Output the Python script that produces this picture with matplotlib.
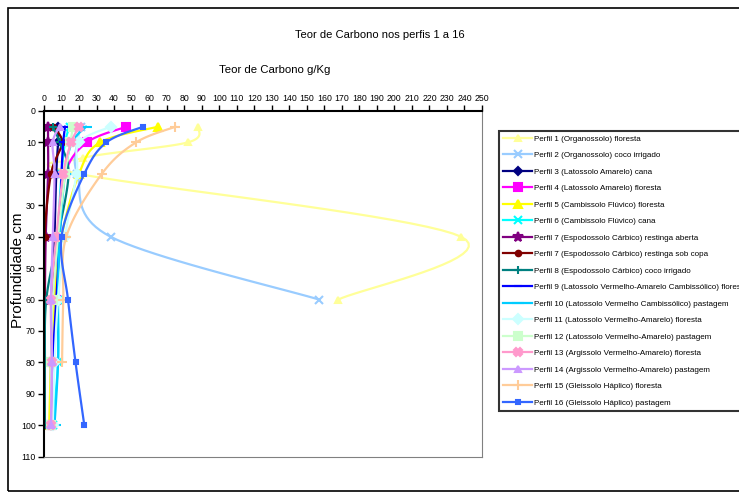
"""Teor de Carbono nos perfis 1 a 16 - perfis de carbono por profundidade."""

import matplotlib

matplotlib.use("Agg")
import matplotlib.pyplot as plt
import numpy as np
from matplotlib.patches import Rectangle

# ---- data (g/kg by depth, cm) ----
labels = [
    "Perfil 1 (Organossolo) floresta",
    "Perfil 2 (Organossolo) coco irrigado",
    "Perfil 3 (Latossolo Amarelo) cana",
    "Perfil 4 (Latossolo Amarelo) floresta",
    "Perfil 5 (Cambissolo Flúvico) floresta",
    "Perfil 6 (Cambissolo Flúvico) cana",
    "Perfil 7 (Espodossolo Cárbico) restinga aberta",
    "Perfil 7 (Espodossolo Cárbico) restinga sob copa",
    "Perfil 8 (Espodossolo Cárbico) coco irrigado",
    "Perfil 9 (Latossolo Vermelho-Amarelo Cambissólico) floresta",
    "Perfil 10 (Latossolo Vermelho Cambissólico) pastagem",
    "Perfil 11 (Latossolo Vermelho-Amarelo) floresta",
    "Perfil 12 (Latossolo Vermelho-Amarelo) pastagem",
    "Perfil 13 (Argissolo Vermelho-Amarelo) floresta",
    "Perfil 14 (Argissolo Vermelho-Amarelo) pastagem",
    "Perfil 15 (Gleissolo Háplico) floresta",
    "Perfil 16 (Gleissolo Háplico) pastagem",
]

depth_full = [5, 10, 20, 40, 60, 80, 100]
depth_p1 = [5, 10, 15, 20, 40, 60]
depth_p2 = [5, 10, 20, 40, 60]
depth_p15 = [5, 10, 20, 40, 60, 80]

carbon_p1 = [88, 82, 22, 20, 238, 168]
carbon_p2 = [21, 19, 19, 38, 157]
carbon_p3 = [8, 8, 7, 6, 5, 4, 4]
carbon_p4 = [47, 24.5, 12, 8, 7, 5, 4]
carbon_p5 = [65, 32, 20, 10, 6, 4, 3]
carbon_p6 = [14.6, 12, 10, 8, 8, 8, 5]
carbon_p7a = [2.3, 2.3, 2.3, 1, 0.5, 0.5, 0.5]
carbon_p7b = [5, 10.3, 4, 0.3, 0.3, 0.3, 0.3]
carbon_p8 = [5, 9, 14, 8, 1.3, 0.5, 0.5]
carbon_p9 = [12, 11, 10, 9, 7, 5, 4]
carbon_p10 = [24, 16, 12, 9, 8, 8, 6]
carbon_p11 = [38, 20, 18.6, 12, 8, 6, 5]
carbon_p12 = [16.6, 15, 12, 8, 5, 4, 4]
carbon_p13 = [20, 15.6, 11, 7, 4, 4.5, 4]
carbon_p14 = [9, 5, 6, 5, 4, 4.5, 4]
carbon_p15 = [75, 52.5, 33, 12.7, 11, 10.3]
carbon_p16 = [56.5, 35.6, 23, 10, 13.7, 18, 23]

series = [
    (carbon_p1, depth_p1), (carbon_p2, depth_p2),
    (carbon_p3, depth_full), (carbon_p4, depth_full), (carbon_p5, depth_full),
    (carbon_p6, depth_full), (carbon_p7a, depth_full), (carbon_p7b, depth_full),
    (carbon_p8, depth_full), (carbon_p9, depth_full), (carbon_p10, depth_full),
    (carbon_p11, depth_full), (carbon_p12, depth_full), (carbon_p13, depth_full),
    (carbon_p14, depth_full), (carbon_p15, depth_p15), (carbon_p16, depth_full),
]

colors = ["#FFFF99", "#99CCFF", "#000080", "#FF00FF", "#FFFF00", "#00FFFF",
          "#800080", "#800000", "#008080", "#0000FF", "#00CCFF", "#CCFFFF",
          "#CCFFCC", "#FF99CC", "#CC99FF", "#FFCC99", "#3366FF"]
markers = ["^", "x", "D", "s", "^", "x", "*", "o", "+", "_", "_", "D",
           "s", "X", "^", "+", "s"]
msizes = [4, 6, 4, 6, 6, 6, 7, 4, 6, 6, 8, 5, 6, 6, 5, 7, 3.5]

X_PX, Y_PX = 1.752, 3.143  # px per unit, for screen-space smoothing


def smooth(xs, ys, n=20):
    """Excel-like smoothed line (Catmull-Rom bezier) done in screen space."""
    p = np.column_stack([np.asarray(xs, float) * X_PX, np.asarray(ys, float) * Y_PX])
    pts = [p[0]]
    t = np.linspace(0, 1, n + 1)[1:, None]
    for i in range(len(p) - 1):
        p0 = p[i - 1] if i > 0 else p[i]
        p3 = p[i + 2] if i + 2 < len(p) else p[i + 1]
        b1 = p[i] + (p[i + 1] - p0) / 6
        b2 = p[i + 1] - (p3 - p[i]) / 6
        seg = ((1 - t) ** 3) * p[i] + 3 * ((1 - t) ** 2) * t * b1 + 3 * (1 - t) * t ** 2 * b2 + t ** 3 * p[i + 1]
        pts.extend(seg)
    pts = np.array(pts)
    return pts[:, 0] / X_PX, pts[:, 1] / Y_PX, list(range(0, len(pts), n))


font = ["Liberation Sans", "DejaVu Sans"]

fig = plt.figure(figsize=(7.39, 4.93), dpi=100)
fig.patches.append(Rectangle((8 / 739, 2 / 493), 1.0, 1 - 10 / 493, transform=fig.transFigure,
                             fill=False, edgecolor="black", linewidth=1.2))

ax = fig.add_axes([44 / 739, 1 - 456.7 / 493, 438 / 739, 345.7 / 493])

for (vals, deps), lab, col, mk, ms in zip(series, labels, colors, markers, msizes):
    sx, sy, idx = smooth(vals, deps)
    ax.plot(sx, sy, color=col, linewidth=1.6, marker=mk, markersize=ms, markevery=idx,
            markeredgewidth=1.5, label=lab)

ax.set_xlim(0, 250)
ax.set_ylim(110, 0)
ax.set_xticks(np.arange(0, 251, 10))
ax.set_yticks(np.arange(0, 111, 10))
ax.xaxis.tick_top()
ax.tick_params(axis="both", direction="out", length=4, width=1, labelsize=6.3, pad=2)
for lbl in ax.get_xticklabels() + ax.get_yticklabels():
    lbl.set_family(font)
ax.spines["top"].set_linewidth(1.5)
ax.spines["left"].set_linewidth(1.5)
ax.spines["right"].set_color("#808080")
ax.spines["bottom"].set_color("#808080")

fig.text(380 / 739, 1 - 35 / 493, "Teor de Carbono nos perfis 1 a 16", ha="center", va="center",
         fontsize=8, family=font)
fig.text(219 / 739, 1 - 70 / 493, "Teor de Carbono g/Kg", ha="left", va="center",
         fontsize=8.2, family=font)
fig.text(18 / 739, 1 - 270 / 493, "Profundidade cm", ha="center", va="center", rotation=90,
         fontsize=11, family=font)

leg = fig.legend(loc="upper left", bbox_to_anchor=(495 / 739, 1 - 127 / 493), ncol=1,
                 prop={"family": font, "size": 5.8}, frameon=True, fancybox=False,
                 handlelength=3.6, labelspacing=1.1, borderpad=0.5, handletextpad=0.3)
leg.get_frame().set_edgecolor("black")
leg.get_frame().set_linewidth(1.5)

fig.savefig("out.png", dpi=100)
